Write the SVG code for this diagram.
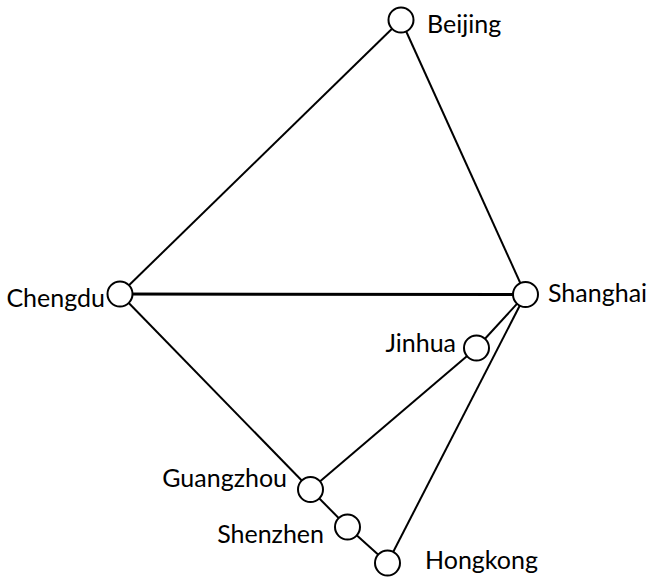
<svg xmlns="http://www.w3.org/2000/svg" width="649" height="577" viewBox="0 0 649 577">
<style>
.n{fill:#fff;stroke:#000;stroke-width:2}
.e{stroke:#000;stroke-width:2;fill:none}
.t{font-family:Lato,"Open Sans",sans-serif;font-size:25px;fill:#000}
</style>
<rect width="649" height="577" fill="#fff"/>
<g id="edges">
<line class="e" x1="401" y1="20" x2="120" y2="294"/>
<line class="e" x1="401" y1="20" x2="525.5" y2="294.5"/>
<line class="e" x1="120" y1="294" x2="525.5" y2="294.5" style="stroke-width:3"/>
<line class="e" x1="120" y1="294" x2="310.5" y2="489.5"/>
<line class="e" x1="310.5" y1="489.5" x2="476.5" y2="348"/>
<line class="e" x1="476.5" y1="348" x2="525.5" y2="294.5"/>
<line class="e" x1="525.5" y1="294.5" x2="387.5" y2="563"/>
<line class="e" x1="310.5" y1="489.5" x2="347.5" y2="527"/>
<line class="e" x1="347.5" y1="527" x2="387.5" y2="563"/>
</g>
<g id="beijing"><circle class="n" cx="401" cy="20" r="12.5"/><text class="t" x="427" y="33">Beijing</text></g>
<g id="chengdu"><circle class="n" cx="120" cy="294" r="12.5"/><text class="t" x="105" y="307" text-anchor="end">Chengdu</text></g>
<g id="shanghai"><circle class="n" cx="525.5" cy="294.5" r="12.5"/><text class="t" x="548" y="302">Shanghai</text></g>
<g id="jinhua"><circle class="n" cx="476.5" cy="348" r="12.5"/><text class="t" x="456" y="352" text-anchor="end">Jinhua</text></g>
<g id="guangzhou"><circle class="n" cx="310.5" cy="489.5" r="12.5"/><text class="t" x="287" y="487" text-anchor="end">Guangzhou</text></g>
<g id="shenzhen"><circle class="n" cx="347.5" cy="527" r="12.5"/><text class="t" x="324" y="543" text-anchor="end">Shenzhen</text></g>
<g id="hongkong"><circle class="n" cx="387.5" cy="563" r="12.5"/><text class="t" x="425" y="569">Hongkong</text></g>
</svg>
